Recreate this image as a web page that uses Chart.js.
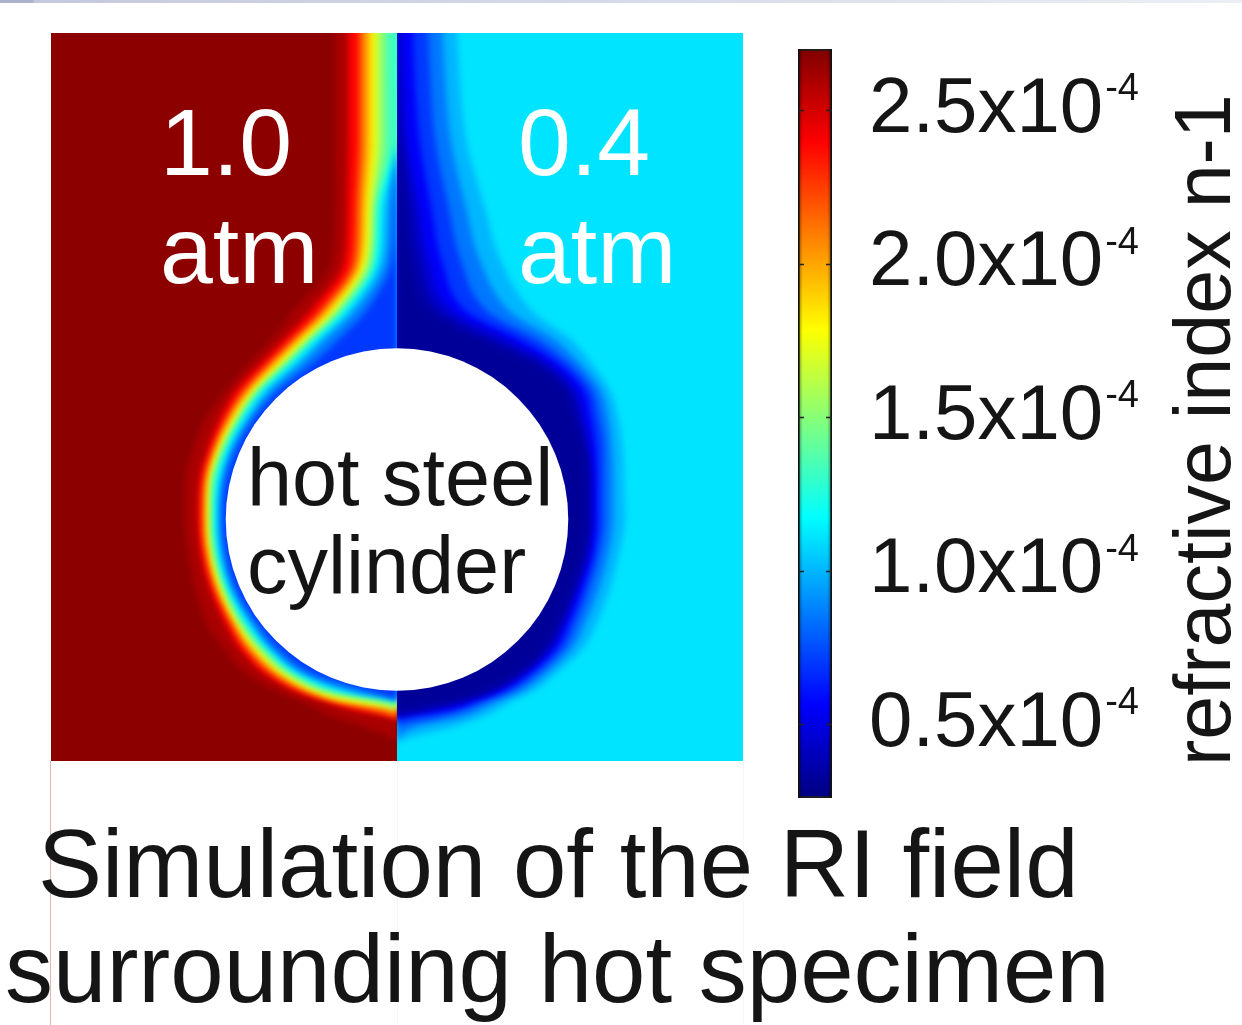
<!DOCTYPE html>
<html>
<head>
<meta charset="utf-8">
<title>Simulation of the RI field</title>
<script src="https://cdn.jsdelivr.net/npm/chart.js@4.4.1/dist/chart.umd.min.js"></script>
<style>
  body { margin: 0; background: #fff; }
  #page { position: relative; width: 1242px; height: 1025px; overflow: hidden; background: #fff;
          font-family: "Liberation Sans", Arial, Helvetica, sans-serif; }
  #page canvas { position: absolute; top: 0; }
  .txt { position: absolute; white-space: pre; margin: 0; }
  .atm { font-size: 95px; line-height: 108px; color: #fff; top: 88px; }
  .cyl { font-size: 81px; line-height: 88px; color: #141414; left: 247px; top: 433px; }
  .title { font-size: 96px; line-height: 105px; color: #151515; }
  .axis { font-size: 79px; line-height: 79px; color: #151515; left: 1163px; top: 766px;
          transform-origin: 0 0; transform: rotate(-90deg); }
  .rule { position: absolute; width: 1px; top: 761px; height: 264px; }
</style>
</head>
<body>
<div id="page">
  <div style="position:absolute;left:0;top:0;width:1242px;height:3px;background:linear-gradient(90deg,#aab2cc 0,#aab2cc 33px,#c3c8dc 34px,#eceef5 100%)"></div>
  <canvas id="leftField" width="397" height="770" style="left:0"></canvas>
  <canvas id="rightField" width="363" height="770" style="left:397px"></canvas>
  <canvas id="colorbar" width="482" height="840" style="left:760px"></canvas>
  <div class="rule" style="left:50px;background:#e0b6b6"></div>
  <div class="rule" style="left:397px;background:#f4f7f9"></div>
  <div class="rule" style="left:743px;background:#f4f7f9"></div>
  <div class="txt atm" style="left:160px">1.0
atm</div>
  <div class="txt atm" style="left:518px">0.4
atm</div>
  <div class="txt cyl">hot steel
cylinder</div>
  <div class="txt axis">refractive index n-1</div>
  <div class="txt title" style="left:38px;top:811px">Simulation of the RI field</div>
  <div class="txt title" style="left:5px;top:916px">surrounding hot specimen</div>
</div>
<script>
// rows of the field (cylinder radius ~10, centre at 0,0), top to bottom
const rowY = [32, 26, 22, 18, 15, 12, 10.5, 9, 7.5, 6, 4, 2, 0, -2, -4, -6, -7.5, -9, -10, -10.5, -11, -11.5, -12, -13, -16];

// 1.0 atm side: x position of each n-1 contour (x10^-4) on every row
const left070 = [0, 0, 0, -0.12, -0.29, -1.85, -3.29, -4.91, -6.82, -8.15, -9.31, -9.94, -10.06, -9.88, -9.31, -8.09, -6.82, -4.68, -1.39, 0, 0, 0, 0, 0, 0];
const left085 = [0, 0, 0, -0.46, -0.69, -2.49, -4.05, -5.55, -7.23, -8.38, -9.54, -10.12, -10.23, -10.06, -9.48, -8.32, -7.17, -5.17, -2.25, 0, 0, 0, 0, 0, 0];
const left102 = [0, 0, 0, -0.81, -1.04, -2.89, -4.45, -5.95, -7.57, -8.67, -9.71, -10.29, -10.40, -10.23, -9.65, -8.55, -7.34, -5.40, -2.72, 0, 0, 0, 0, 0, 0];
const left120 = [-0.23, -0.23, -0.23, -1.10, -1.27, -3.18, -4.74, -6.24, -7.80, -8.90, -9.94, -10.52, -10.58, -10.40, -9.83, -8.79, -7.57, -5.72, -3.24, 0, 0, 0, 0, 0, 0];
const left138 = [-0.75, -0.75, -0.75, -1.27, -1.50, -3.41, -4.91, -6.42, -7.98, -9.02, -10.06, -10.64, -10.69, -10.52, -9.94, -8.96, -7.80, -6.07, -3.76, -1.10, 0, 0, 0, 0, 0];
const left155 = [-1.10, -1.10, -1.10, -1.45, -1.68, -3.58, -5.09, -6.59, -8.09, -9.13, -10.17, -10.75, -10.81, -10.64, -10.06, -9.08, -7.98, -6.24, -4.05, -1.91, 0, 0, 0, 0, 0];
const left172 = [-1.39, -1.39, -1.39, -1.68, -1.91, -3.82, -5.32, -6.82, -8.27, -9.31, -10.29, -10.81, -10.87, -10.69, -10.17, -9.19, -8.15, -6.47, -4.45, -2.72, 0, 0, 0, 0, 0];
const left188 = [-1.68, -1.68, -1.68, -1.91, -2.08, -4.05, -5.55, -7.05, -8.44, -9.48, -10.40, -10.92, -10.98, -10.81, -10.29, -9.31, -8.32, -6.65, -4.74, -3.12, 0, 0, 0, 0, 0];
const left205 = [-1.97, -1.97, -1.97, -2.14, -2.31, -4.28, -5.78, -7.28, -8.67, -9.65, -10.58, -11.10, -11.16, -10.98, -10.40, -9.48, -8.55, -6.94, -5.03, -3.53, -1.16, 0, 0, 0, 0];
const left222 = [-2.25, -2.25, -2.25, -2.43, -2.60, -4.57, -6.01, -7.51, -8.90, -9.83, -10.69, -11.21, -11.27, -11.10, -10.58, -9.65, -8.76, -7.23, -5.38, -3.87, -1.97, 0, 0, 0, 0];
const left240 = [-2.83, -2.83, -2.83, -2.89, -3.06, -5.09, -6.47, -7.92, -9.31, -10.17, -10.98, -11.45, -11.50, -11.33, -10.81, -9.94, -9.08, -7.57, -5.78, -4.34, -2.77, -0.29, 0, 0, 0];
const left260 = [-3.58, -3.58, -3.58, -3.58, -3.76, -6.07, -7.23, -8.61, -9.88, -10.98, -11.85, -12.25, -12.25, -12.08, -11.68, -11.04, -10.01, -8.69, -6.88, -5.66, -4.62, -3.61, -2.02, 0, 0];

// 0.4 atm side
const right032 = [0, 0, 0.10, 0.40, 0.80, 2.00, 4.60, 7.90, 9.65, 10.23, 10.81, 10.98, 10.98, 10.75, 10.12, 9.28, 8.44, 6.82, 4.86, 3.35, 0.58, 0, 0, 0, 0];
const right037 = [0, 0.10, 0.30, 0.90, 1.35, 2.60, 5.40, 8.40, 10.00, 10.50, 10.98, 11.16, 11.16, 10.92, 10.29, 9.48, 8.67, 7.03, 5.26, 3.70, 1.68, 0, 0, 0, 0];
const right045 = [0.25, 0.35, 0.60, 1.30, 1.85, 3.30, 6.20, 8.90, 10.35, 10.81, 11.21, 11.33, 11.33, 11.10, 10.46, 9.69, 8.90, 7.28, 5.61, 4.20, 2.60, 0, 0, 0, 0];
const right055 = [0.85, 1.00, 1.30, 2.00, 2.60, 4.10, 7.00, 9.40, 10.81, 11.21, 11.50, 11.56, 11.56, 11.33, 10.73, 9.94, 9.19, 7.57, 5.95, 4.62, 3.27, 0.12, 0, 0, 0];
const right070 = [1.70, 1.90, 2.20, 3.00, 3.70, 5.30, 8.00, 10.00, 11.27, 11.68, 11.97, 11.97, 11.97, 11.68, 11.10, 10.35, 9.60, 8.02, 6.51, 5.18, 3.99, 2.20, 0, 0, 0];
const right085 = [2.50, 2.75, 3.10, 4.00, 4.80, 6.60, 9.00, 10.60, 11.77, 12.20, 12.43, 12.49, 12.49, 12.20, 11.65, 10.87, 10.09, 8.53, 7.11, 5.92, 4.91, 3.61, 1.16, 0, 0];
const right100 = [3.30, 3.60, 4.00, 5.10, 6.00, 7.90, 10.00, 11.30, 12.31, 12.77, 13.06, 13.12, 13.18, 12.83, 12.31, 11.56, 10.73, 9.10, 7.80, 6.71, 5.84, 4.80, 3.35, 0, 0];

// contour level (n-1, x10^-4) for each array, inner first
const leftContours = [[0.70, left070], [0.85, left085], [1.02, left102], [1.20, left120], [1.38, left138], [1.55, left155],
  [1.72, left172], [1.88, left188], [2.05, left205], [2.22, left222], [2.40, left240], [2.60, left260]];
const rightContours = [[0.32, right032], [0.37, right037], [0.45, right045], [0.55, right055], [0.70, right070],
  [0.85, right085], [1.00, right100]];

const farLeft = 2.67;   // undisturbed gas, 1.0 atm
const farRight = 1.11;  // undisturbed gas, 0.4 atm
const cylR = 9.9;

// colour bar
const barRange = [0.26, 2.70];
const cbTicks = [0.5, 1.0, 1.5, 2.0, 2.5];
const expLabel = '-4';

const fontFamily = '"Liberation Sans", Arial, Helvetica, sans-serif';
const textColor = '#151515';

// jet colormap over the colour bar range
function jet(v) {
  const t = (v - barRange[0]) / (barRange[1] - barRange[0]);
  const c = x => Math.round(255 * Math.max(0, Math.min(1, x)));
  return 'rgb(' + c(1.5 - Math.abs(4 * t - 3)) + ',' + c(1.5 - Math.abs(4 * t - 2)) + ',' + c(1.5 - Math.abs(4 * t - 1)) + ')';
}

// paints the far field, then softens the contour fills
const fieldPlugin = {
  id: 'field',
  beforeDatasetsDraw(chart, args, opts) {
    const {ctx, chartArea: a} = chart;
    ctx.save();
    ctx.fillStyle = opts.far;
    ctx.fillRect(a.left, a.top, a.width, a.height);
    ctx.filter = 'blur(' + opts.blur + 'px)';
  },
  beforeDatasetDraw(chart, args) {
    if (args.meta.label === 'cylinder') chart.ctx.filter = 'none';
  },
  afterDatasetsDraw(chart) {
    chart.ctx.restore();
  }
};

function fieldChart(id, xMin, xMax, contours, far, pad) {
  const sets = [{
    label: 'cylinder',
    data: [{x: 0, y: 0}],
    pointRadius: c => {
      const s = c.chart.scales.x;
      return Math.abs(s.getPixelForValue(cylR) - s.getPixelForValue(0));
    },
    pointBackgroundColor: '#ffffff',
    pointBorderWidth: 0,
    borderWidth: 0,
    clip: 0
  }];
  contours.forEach(([level, xs]) => {
    sets.push({
      label: 'n-1 = ' + level,
      data: rowY.map((y, i) => ({x: xs[i], y: y})),
      fill: {value: 0},
      backgroundColor: jet(level),
      borderWidth: 0,
      pointRadius: 0,
      cubicInterpolationMode: 'monotone',
      clip: 0
    });
  });
  return new Chart(document.getElementById(id), {
    type: 'line',
    data: {datasets: sets},
    options: {
      indexAxis: 'y',
      responsive: false,
      animation: false,
      events: [],
      layout: {padding: pad},
      elements: {line: {capBezierPoints: false}},
      plugins: {
        legend: {display: false},
        tooltip: {enabled: false},
        field: {far: jet(far), blur: 3}
      },
      scales: {
        x: {type: 'linear', min: xMin, max: xMax, display: false},
        y: {type: 'linear', min: -14, max: 28.2, display: false}
      }
    },
    plugins: [fieldPlugin]
  });
}

fieldChart('leftField', -20, 0, leftContours, farLeft, {left: 51, top: 33, right: 0, bottom: 9});
fieldChart('rightField', 0, 20, rightContours, farRight, {left: 0, top: 33, right: 17, bottom: 9});

// colour bar: tick marks, edge shading and the exponents
const barMarks = {
  id: 'barMarks',
  afterDatasetsDraw(chart) {
    const {ctx, chartArea: a, scales: {y}} = chart;
    ctx.save();
    const shade = ctx.createLinearGradient(a.left, 0, a.right, 0);
    shade.addColorStop(0, 'rgba(0,0,0,0.45)');
    shade.addColorStop(0.14, 'rgba(0,0,0,0)');
    shade.addColorStop(0.86, 'rgba(0,0,0,0)');
    shade.addColorStop(1, 'rgba(0,0,0,0.45)');
    ctx.fillStyle = shade;
    ctx.fillRect(a.left, a.top, a.width, a.height);
    ctx.strokeStyle = '#222';
    ctx.lineWidth = 1.5;
    cbTicks.forEach(v => {
      const py = Math.round(y.getPixelForValue(v)) + 0.5;
      ctx.beginPath();
      ctx.moveTo(a.left, py);
      ctx.lineTo(a.left + 6, py);
      ctx.moveTo(a.right - 6, py);
      ctx.lineTo(a.right, py);
      ctx.stroke();
    });
    ctx.restore();
  },
  afterDraw(chart) {
    const {ctx, scales: {y}} = chart;
    ctx.save();
    ctx.fillStyle = textColor;
    ctx.textBaseline = 'alphabetic';
    ctx.textAlign = 'left';
    y.ticks.forEach((t, i) => {
      const py = y.getPixelForTick(i);
      ctx.font = '78px ' + fontFamily;
      const w = ctx.measureText(t.label).width;
      ctx.font = '38px ' + fontFamily;
      ctx.fillText(expLabel, y.left + 37 + w + 2, py - 10);
    });
    ctx.restore();
  }
};

new Chart(document.getElementById('colorbar'), {
  type: 'bar',
  data: {
    labels: [''],
    datasets: [{
      data: [barRange],
      backgroundColor: c => {
        const a = c.chart.chartArea;
        if (!a) return jet(barRange[1]);
        const g = c.chart.ctx.createLinearGradient(0, a.bottom, 0, a.top);
        [0, 0.125, 0.375, 0.625, 0.875, 1].forEach(t => {
          g.addColorStop(t, jet(barRange[0] + t * (barRange[1] - barRange[0])));
        });
        return g;
      },
      borderColor: '#1d1d1d',
      borderWidth: 2,
      borderSkipped: false,
      barPercentage: 1,
      categoryPercentage: 1
    }]
  },
  options: {
    responsive: false,
    animation: false,
    events: [],
    layout: {padding: {left: 38, top: 49, right: 30, bottom: 42}},
    plugins: {legend: {display: false}, tooltip: {enabled: false}},
    scales: {
      x: {display: false},
      y: {
        position: 'right',
        min: barRange[0],
        max: barRange[1],
        afterBuildTicks: s => { s.ticks = cbTicks.map(v => ({value: v})); },
        afterFit: s => { s.width = 380; },
        grid: {display: false, drawTicks: true, tickLength: 37},
        border: {display: false},
        ticks: {
          padding: 0,
          color: textColor,
          font: {family: fontFamily, size: 78, lineHeight: 1},
          callback: v => v.toFixed(1) + 'x10'
        }
      }
    }
  },
  plugins: [barMarks]
});
</script>
</body>
</html>
